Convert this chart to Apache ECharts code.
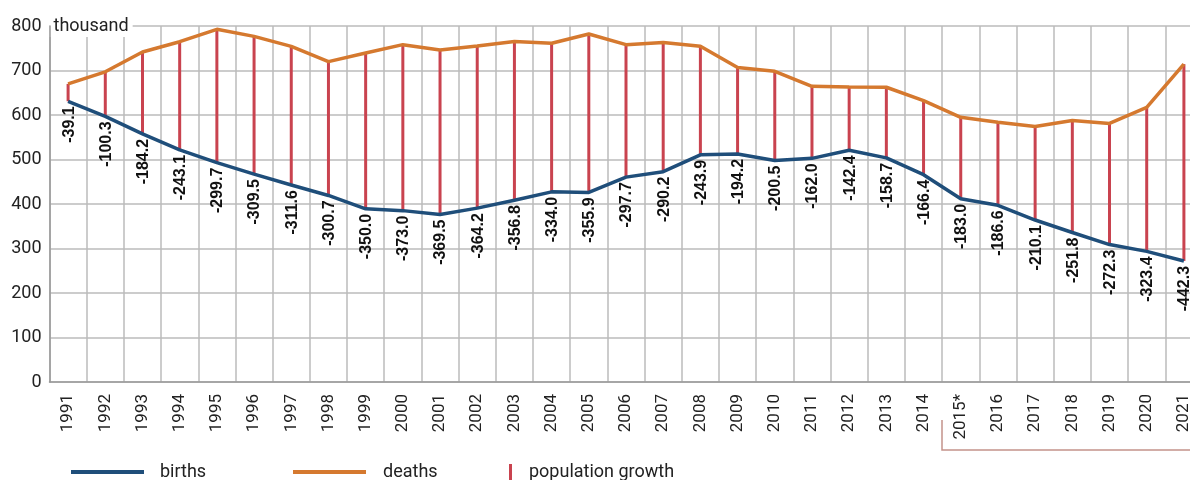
<!DOCTYPE html>
<html>
<head>
<meta charset="utf-8">
<script src="https://cdn.jsdelivr.net/npm/echarts@6/dist/echarts.min.js"></script>
<style>
  html, body { margin: 0; padding: 0; background: #fff; }
  #chart { width: 1190px; height: 480px; }
</style>
</head>
<body>
<div id="chart"></div>
<script>
// Natural movement of population, thousand
const years = ['1991', '1992', '1993', '1994', '1995', '1996', '1997', '1998', '1999', '2000',
    '2001', '2002', '2003', '2004', '2005', '2006', '2007', '2008', '2009', '2010',
    '2011', '2012', '2013', '2014', '2015*', '2016', '2017', '2018', '2019', '2020', '2021'];

const births = [630.8, 596.8, 557.5, 521.6, 492.9, 467.2, 442.6, 419.2, 389.2, 385.1,
    376.4, 390.7, 408.6, 427.3, 426.1, 460.4, 472.7, 510.6, 512.5, 497.7,
    502.6, 520.7, 503.7, 465.9, 411.8, 397.0, 364.0, 335.9, 308.8, 293.5, 272.0];

const deaths = [669.9, 697.1, 741.7, 764.7, 792.6, 776.7, 754.2, 719.9, 739.2, 758.1,
    745.9, 754.9, 765.4, 761.3, 782.0, 758.1, 762.9, 754.5, 706.7, 698.2,
    664.6, 663.1, 662.4, 632.3, 594.8, 583.6, 574.1, 587.7, 581.1, 616.9, 714.3];

const growthLabels = ['-39.1', '-100.3', '-184.2', '-243.1', '-299.7', '-309.5', '-311.6', '-300.7', '-350.0', '-373.0',
    '-369.5', '-364.2', '-356.8', '-334.0', '-355.9', '-297.7', '-290.2', '-243.9', '-194.2', '-200.5',
    '-162.0', '-142.4', '-158.7', '-166.4', '-183.0', '-186.6', '-210.1', '-251.8', '-272.3', '-323.4', '-442.3'];

const yTicks = [0, 100, 200, 300, 400, 500, 600, 700, 800];

const COLOR_BIRTHS = '#1f4e7a';
const COLOR_DEATHS = '#d5792f';
const COLOR_GROWTH = '#c9434f';
const FONT = 'Roboto, sans-serif';

const chart = echarts.init(document.getElementById('chart'), null, { renderer: 'canvas' });

const growthData = years.map((y, i) => [i, births[i], deaths[i], growthLabels[i]]);

function renderGrowth(params, api) {
    const idx = api.value(0);
    const low = api.coord([idx, api.value(1)]);
    const high = api.coord([idx, api.value(2)]);
    return {
        type: 'group',
        children: [
            {
                type: 'line',
                shape: { x1: low[0], y1: low[1], x2: high[0], y2: high[1] },
                style: { stroke: COLOR_GROWTH, lineWidth: 3 }
            },
            {
                type: 'text',
                x: low[0] + 1,
                y: low[1] + 5,
                rotation: Math.PI / 2,
                style: {
                    text: growthData[idx][3],
                    x: 0,
                    y: 0,
                    align: 'right',
                    verticalAlign: 'middle',
                    fill: '#111',
                    font: 'bold 16px "Liberation Sans", Arial, sans-serif'
                }
            }
        ]
    };
}

function legendFor(name, left, width, height, pad) {
    return {
        data: [name],
        left: left,
        top: 463,
        icon: 'rect',
        itemWidth: width,
        itemHeight: height,
        padding: 0,
        selectedMode: false,
        textStyle: { fontFamily: FONT, fontSize: 18, color: '#222', padding: [0, 0, 0, pad] }
    };
}

const option = {
    backgroundColor: '#fff',
    animation: false,
    grid: { left: 49.5, top: 26, width: 1153, bottom: 98, outerBoundsMode: 'none', containLabel: false },
    legend: [
        legendFor('births', 71, 73, 4, 11),
        legendFor('deaths', 293, 73, 4, 12),
        legendFor('population growth', 509, 3, 16, 12)
    ],
    xAxis: {
        type: 'category',
        data: years,
        boundaryGap: true,
        axisLine: { lineStyle: { color: '#999', width: 1.5 } },
        axisTick: { show: false },
        axisLabel: { rotate: 90, margin: 12, fontFamily: FONT, fontSize: 17, color: '#222', interval: 0 },
        splitLine: { show: true, interval: 0, lineStyle: { color: '#bbb', width: 1.5 } }
    },
    yAxis: {
        type: 'value',
        min: yTicks[0],
        max: yTicks[yTicks.length - 1],
        interval: 100,
        name: 'thousand',
        nameLocation: 'end',
        nameGap: 0,
        nameTextStyle: {
            fontFamily: FONT, fontSize: 18, color: '#222',
            align: 'left', verticalAlign: 'middle',
            backgroundColor: '#fff', padding: [2, 4, 2, 4]
        },
        axisLine: { show: true, lineStyle: { color: '#999', width: 1.5 } },
        axisTick: { show: false },
        axisLabel: { margin: 8, fontFamily: FONT, fontSize: 18, color: '#222' },
        splitLine: { show: true, lineStyle: { color: '#bbb', width: 1.5 } }
    },
    graphic: [
        {
            type: 'polyline',
            shape: { points: [[942, 420], [942, 450], [1190, 450]] },
            style: { stroke: '#c4928a', lineWidth: 1.5, fill: null }
        }
    ],
    series: [
        {
            name: 'population growth',
            type: 'custom',
            color: COLOR_GROWTH,
            renderItem: renderGrowth,
            data: growthData,
            encode: { x: 0, y: [1, 2] },
            clip: false,
            z: 1
        },
        {
            name: 'births',
            type: 'line',
            data: births,
            color: COLOR_BIRTHS,
            showSymbol: false,
            symbol: 'none',
            lineStyle: { width: 3.5, color: COLOR_BIRTHS },
            z: 3
        },
        {
            name: 'deaths',
            type: 'line',
            data: deaths,
            color: COLOR_DEATHS,
            showSymbol: false,
            symbol: 'none',
            lineStyle: { width: 3.5, color: COLOR_DEATHS },
            z: 3
        }
    ]
};

chart.setOption(option);
</script>
</body>
</html>
